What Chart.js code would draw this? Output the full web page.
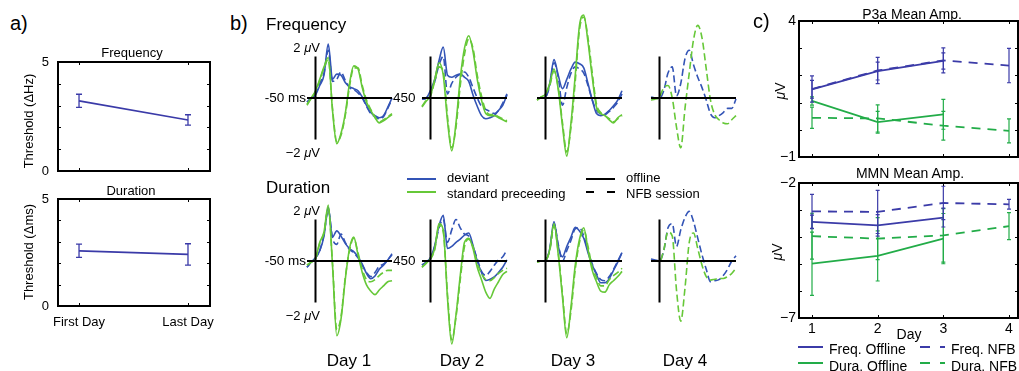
<!DOCTYPE html>
<html><head><meta charset="utf-8">
<script src="https://cdn.jsdelivr.net/npm/chart.js@4.4.0/dist/chart.umd.min.js"></script>
<style>
html,body{margin:0;padding:0;background:#fff;}
body{width:1019px;height:371px;position:relative;overflow:hidden;font-family:"Liberation Sans",Arial,Helvetica,sans-serif;color:#000;}
canvas{position:absolute;}
.t{position:absolute;white-space:nowrap;line-height:1;}
.ln{position:absolute;}
</style></head><body>
<script>
// ---------------- DATA ----------------
// panel a
const aCategories = ['First Day', 'Last Day'];
const aFreqThreshold = [3.22, 2.34];
const aFreqErr = [0.30, 0.24];
const aDurThreshold = [2.58, 2.41];
const aDurErr = [0.31, 0.50];
const aYTicks = [0, 1, 2, 3, 4, 5];
const aYLabels = [0, 5];

// panel b (time in ms, amplitude in µV)
const waveTimes = [-50,-25,0,25,50,75,100,125,150,175,200,225,250,275,300,325,350,375,400,425,450];
const waveTimeRange = [-50, 450];
const voltRange = [-2, 2];
const dayNames = ['Day 1', 'Day 2', 'Day 3', 'Day 4'];

const freqD1DevOff = [-0.2, 0.0, 0.15, 0.6, 1.1, 2.6, 0.9, 1.15, 1.1, 0.75, 0.55, 0.45, 0.35, 0.05, -0.35, -0.7, -0.85, -0.95, -0.85, -0.45, 0.0];
const freqD1DevNfb = [-0.2, 0.0, 0.2, 0.7, 1.2, 2.3, 0.8, 0.9, 1.25, 0.85, 0.5, 0.4, 0.25, 0.0, -0.4, -0.75, -0.9, -1.0, -0.9, -0.5, -0.05];
const freqD1StdOff = [-0.35, 0.0, 0.35, 0.9, 1.5, 1.95, -0.6, -2.2, -1.7, -0.75, 0.7, 1.55, 1.4, 0.5, -0.2, -0.6, -0.95, -1.2, -1.1, -0.95, -0.8];
const freqD1StdNfb = [-0.3, 0.0, 0.3, 0.85, 1.45, 1.85, -0.5, -2.1, -1.8, -0.85, 0.55, 1.45, 1.45, 0.6, -0.1, -0.55, -0.9, -1.15, -1.05, -0.9, -0.75];

const freqD2DevOff = [-0.05, 0.0, 0.37, 0.9, 1.8, 2.45, 1.1, 1.0, 1.1, 1.15, 1.0, 0.8, 0.15, -0.4, -0.85, -1.0, -0.95, -0.85, -0.6, -0.35, 0.15];
const freqD2DevNfb = [-0.05, 0.0, 0.3, 0.8, 1.6, 2.0, 0.2, 0.7, 1.0, 1.15, 1.25, 1.0, 0.5, 0.0, -0.4, -0.55, -0.65, -0.75, -0.6, -0.25, 0.2];
const freqD2StdOff = [-0.43, -0.15, 0.13, 0.9, 1.7, 1.1, -1.1, -2.55, -1.2, 0.95, 2.4, 3.0, 2.25, 0.9, -0.1, -0.75, -0.85, -0.85, -0.95, -1.05, -1.15];
const freqD2StdNfb = [-0.4, -0.1, 0.1, 0.8, 1.5, 1.3, -0.9, -2.4, -1.4, 0.6, 2.1, 2.85, 2.4, 1.1, 0.1, -0.6, -0.8, -0.8, -0.9, -1.0, -1.1];

const freqD3DevOff = [0.0, 0.0, 0.05, 0.7, 1.85, 1.1, 0.45, 0.9, 1.4, 1.73, 1.65, 1.45, 0.7, -0.1, -0.75, -0.85, -0.78, -0.6, -0.37, -0.1, 0.35];
const freqD3DevNfb = [0.0, 0.0, 0.05, 0.6, 1.7, 1.0, -0.35, 0.5, 1.2, 1.5, 1.4, 1.2, 0.6, -0.1, -0.6, -0.75, -0.8, -0.65, -0.45, -0.2, 0.2];
const freqD3StdOff = [-0.1, 0.05, 0.2, 0.7, 1.4, 0.4, -1.35, -2.8, -1.2, 1.1, 3.5, 4.0, 2.7, 1.0, -0.45, -0.75, -0.85, -1.05, -1.2, -0.95, -0.8];
const freqD3StdNfb = [-0.1, 0.05, 0.2, 0.6, 1.3, 0.5, -1.2, -2.6, -1.4, 0.8, 3.3, 3.9, 2.9, 1.2, -0.3, -0.7, -0.85, -1.0, -1.15, -1.0, -0.85];

const freqD4DevNfb = [0.05, 0.0, -0.03, 0.35, 1.2, 1.5, 0.1, 0.7, 1.9, 2.3, 1.6, 1.0, 0.5, -0.1, -0.76, -0.95, -0.85, -0.7, -0.5, -0.5, -0.05];
const freqD4StdNfb = [-0.1, -0.05, 0.05, 0.5, 0.6, 0.0, -1.4, -2.4, -0.5, 1.2, 2.8, 3.5, 2.9, 1.4, -0.1, -0.8, -1.05, -1.2, -1.24, -1.05, -0.85];

const durD1DevOff = [-0.3, -0.05, 0.16, 0.5, 1.2, 2.6, 1.15, 1.45, 1.2, 0.85, 0.6, 0.45, 0.2, -0.15, -0.6, -0.85, -0.72, -0.4, -0.2, 0.05, 0.35];
const durD1DevNfb = [-0.3, -0.05, 0.15, 0.5, 1.3, 2.45, 1.1, 0.8, 1.3, 0.9, 0.55, 0.4, 0.15, -0.2, -0.55, -0.75, -0.55, -0.25, -0.15, 0.05, 0.3];
const durD1StdOff = [-0.2, -0.05, 0.11, 0.9, 1.4, 2.7, -0.2, -3.6, -2.8, -0.9, 0.6, 1.15, 0.3, -0.55, -1.15, -1.45, -1.62, -1.4, -1.2, -1.0, -0.95];
const durD1StdNfb = [-0.2, -0.05, 0.1, 0.85, 1.35, 2.55, -0.1, -3.3, -2.7, -0.8, 0.5, 1.1, 0.4, -0.4, -0.9, -1.0, -0.9, -0.7, -0.55, -0.45, -0.45];

const durD2DevOff = [-0.2, -0.05, 0.16, 0.75, 1.7, 2.2, 0.6, 0.7, 0.9, 1.05, 1.25, 1.35, 0.75, 0.0, -0.55, -0.94, -0.88, -0.77, -0.55, -0.3, 0.05];
const durD2DevNfb = [-0.2, -0.05, 0.15, 0.7, 1.6, 2.0, 0.9, 1.5, 2.0, 1.6, 1.3, 1.2, 0.7, 0.1, -0.5, -0.7, -0.5, -0.2, 0.05, 0.2, 0.55];
const durD2StdOff = [-0.3, -0.1, 0.11, 0.6, 1.8, 1.5, -1.8, -4.0, -2.6, -0.7, 0.9, 1.1, 0.6, -0.3, -0.9, -1.5, -1.8, -1.35, -1.0, -0.65, -0.5];
const durD2StdNfb = [-0.3, -0.1, 0.1, 0.55, 1.7, 1.4, -1.6, -3.8, -2.7, -0.9, 0.7, 1.05, 0.7, -0.1, -0.6, -0.9, -0.95, -0.8, -0.6, -0.45, -0.35];

const durD3DevOff = [0.0, 0.0, 0.0, 0.6, 1.9, 0.7, 0.2, 0.7, 1.15, 1.62, 1.45, 1.1, 0.4, -0.2, -0.65, -1.05, -1.05, -0.85, -0.45, -0.05, 0.4];
const durD3DevNfb = [0.0, 0.0, 0.05, 0.55, 1.8, 0.8, 0.0, 0.5, 1.0, 1.55, 1.6, 1.2, 0.5, -0.15, -0.6, -0.9, -0.95, -0.75, -0.4, 0.0, 0.4];
const durD3StdOff = [-0.05, 0.0, 0.03, 0.55, 1.8, 0.3, -1.75, -3.7, -2.2, -0.2, 1.05, 1.6, 0.55, -0.45, -1.0, -1.45, -1.5, -1.15, -0.95, -0.75, -0.5];
const durD3StdNfb = [-0.05, 0.0, 0.03, 0.5, 1.7, 0.4, -1.6, -3.5, -2.4, -0.4, 0.9, 1.5, 0.7, -0.3, -0.8, -1.2, -1.2, -0.9, -0.7, -0.55, -0.35];

const durD4DevNfb = [0.1, 0.05, 0.0, 0.5, 1.6, 1.8, 0.7, 1.5, 2.1, 2.39, 1.9, 1.1, 0.3, -0.4, -1.0, -0.95, -0.9, -0.7, -0.4, 0.0, 0.25];
const durD4StdNfb = [0.0, 0.0, -0.03, 0.53, 1.4, 1.2, -1.4, -2.9, -1.3, 0.9, 1.35, 0.6, -0.2, -0.75, -0.92, -0.88, -0.84, -0.84, -0.75, -0.6, -0.35];

// panel c
const cDays = [1, 2, 3, 4];
const p3aFreqOff = [1.49, 2.16, 2.53, null];
const p3aFreqOffErr = [0.33, 0.33, 0.30, null];
const p3aFreqNfb = [1.50, 2.18, 2.55, 2.36];
const p3aFreqNfbErr = [0.48, 0.48, 0.46, 0.63];
const p3aDurOff = [1.06, 0.28, 0.57, null];
const p3aDurOffErr = [0.15, 0.40, 0.55, null];
const p3aDurNfb = [0.44, 0.42, 0.15, -0.04];
const p3aDurNfbErr = [0.39, 0.50, 0.53, 0.44];
const p3aYTicks = [-1, 0, 1, 2, 3, 4];
const p3aYLabels = [-1, 4];

const mmnFreqOff = [-3.44, -3.57, -3.28, null];
const mmnFreqOffErr = [0.25, 0.40, 0.35, null];
const mmnFreqNfb = [-3.05, -3.07, -2.74, -2.79];
const mmnFreqNfbErr = [0.63, 0.80, 0.62, 0.18];
const mmnDurOff = [-4.99, -4.70, -4.06, null];
const mmnDurOffErr = [1.17, 0.93, 0.93, null];
const mmnDurNfb = [-3.97, -4.06, -3.94, -3.60];
const mmnDurNfbErr = [0.85, 0.78, 0.99, 0.50];
const mmnYTicks = [-7, -6, -5, -4, -3, -2];
const mmnYLabels = [-7, -2];

// ---------------- STYLE ----------------
const FONT = '"Liberation Sans", Arial, Helvetica, sans-serif';
const A_BLUE = '#3a3aa8';
const B_BLUE = '#3354b6';
const B_GREEN = '#66c838';
const C_BLUE = '#3b3ba8';
const C_GREEN = '#22ac48';

Chart.defaults.font.family = FONT;
Chart.defaults.color = '#000';
Chart.defaults.animation = false;

function txt(html, x, y, size, align) {
  const d = document.createElement('div');
  d.className = 't';
  d.innerHTML = html;
  d.style.left = x + 'px';
  d.style.top = y + 'px';
  d.style.fontSize = size + 'px';
  const dx = align === 'center' ? '-50%' : align === 'right' ? '-100%' : '0';
  d.style.transform = 'translate(' + dx + ',-50%)';
  document.body.appendChild(d);
  return d;
}
function vtxt(html, x, y, size) {
  const d = txt(html, x, y, size, 'center');
  d.style.transformOrigin = '0 0';
  d.style.transform = 'rotate(-90deg) translate(-50%,-50%)';
  return d;
}
function hline(x1, x2, y, color, w, dash) {
  const d = document.createElement('div');
  d.className = 'ln';
  d.style.left = x1 + 'px';
  d.style.top = (y - w / 2) + 'px';
  d.style.width = (x2 - x1) + 'px';
  d.style.height = w + 'px';
  d.style.background = dash
    ? 'repeating-linear-gradient(to right,' + color + ' 0px,' + color + ' ' + dash[0] + 'px,transparent ' + dash[0] + 'px,transparent ' + (dash[0] + dash[1]) + 'px)'
    : color;
  document.body.appendChild(d);
}
function mkCanvas(left, top, w, h) {
  const c = document.createElement('canvas');
  c.width = w; c.height = h;
  c.style.left = left + 'px'; c.style.top = top + 'px';
  c.style.width = w + 'px'; c.style.height = h + 'px';
  document.body.appendChild(c);
  return c;
}
const pts = (xs, ys) => xs.map((x, i) => ({ x: x, y: ys[i] }));

// ---------------- PLUGINS ----------------
const framePlugin = {
  id: 'frame',
  afterDraw(chart, args, o) {
    if (!o || !o.on) return;
    const { ctx, chartArea: a, scales: { x, y } } = chart;
    ctx.save();
    ctx.strokeStyle = '#000';
    ctx.setLineDash([]);
    ctx.lineWidth = 1;
    const tl = o.tick;
    ctx.beginPath();
    o.yTicks.forEach(v => {
      const py = Math.round(y.getPixelForValue(v)) + 0.5;
      ctx.moveTo(a.left, py); ctx.lineTo(a.left + tl, py);
      ctx.moveTo(a.right, py); ctx.lineTo(a.right - tl, py);
    });
    o.xTicks.forEach(v => {
      const px = Math.round(x.getPixelForValue(v)) + 0.5;
      ctx.moveTo(px, a.top); ctx.lineTo(px, a.top + tl);
      ctx.moveTo(px, a.bottom); ctx.lineTo(px, a.bottom - tl);
    });
    ctx.stroke();
    ctx.lineWidth = o.lw;
    ctx.strokeRect(a.left, a.top, a.right - a.left, a.bottom - a.top);
    ctx.restore();
  }
};
const errPlugin = {
  id: 'errbars',
  afterDatasetsDraw(chart) {
    const { ctx, scales: { x, y } } = chart;
    chart.data.datasets.forEach(ds => {
      if (!ds.errors) return;
      ctx.save();
      ctx.strokeStyle = ds.borderColor;
      ctx.lineWidth = ds.errWidth || 1.3;
      ctx.setLineDash([]);
      ds.data.forEach((p, j) => {
        const e = ds.errors[j];
        if (p.y == null || e == null) return;
        const px = x.getPixelForValue(p.x);
        const y1 = y.getPixelForValue(p.y - e), y2 = y.getPixelForValue(p.y + e);
        const w = ds.capW || 3;
        ctx.beginPath();
        ctx.moveTo(px, y1); ctx.lineTo(px, y2);
        ctx.moveTo(px - w, y1); ctx.lineTo(px + w, y1);
        ctx.moveTo(px - w, y2); ctx.lineTo(px + w, y2);
        ctx.stroke();
      });
      ctx.restore();
    });
  }
};
const waveAxes = {
  id: 'waveAxes',
  afterDatasetsDraw(chart) {
    const { ctx, scales: { x, y } } = chart;
    ctx.save();
    ctx.strokeStyle = '#000';
    ctx.lineWidth = 2;
    ctx.setLineDash([]);
    ctx.beginPath();
    const y0 = y.getPixelForValue(0);
    ctx.moveTo(x.getPixelForValue(waveTimeRange[0]), y0);
    ctx.lineTo(x.getPixelForValue(waveTimeRange[1]), y0);
    const x0 = x.getPixelForValue(0);
    ctx.moveTo(x0, y.getPixelForValue(voltRange[0]));
    ctx.lineTo(x0, y.getPixelForValue(voltRange[1]));
    ctx.stroke();
    ctx.restore();
  }
};

// ---------------- BOXED CHART ----------------
// margins are kept larger than (half label height + tick padding) so the chart area is exactly `box`
function boxChart(cfg) {
  const b = cfg.box, m = cfg.m;
  const c = mkCanvas(b.x - m.l, b.y - m.t, m.l + b.w + m.r, m.t + b.h + m.b);
  return new Chart(c, {
    type: 'line',
    data: { datasets: cfg.datasets },
    plugins: [errPlugin, framePlugin],
    options: {
      responsive: false,
      animation: false,
      layout: { padding: { left: 0, top: m.t, right: m.r, bottom: 0 } },
      elements: { point: { radius: 0 }, line: { tension: 0 } },
      plugins: {
        legend: { display: false }, tooltip: { enabled: false }, title: { display: false },
        frame: { on: true, lw: cfg.frameW, tick: cfg.tick, xTicks: cfg.xTicks, yTicks: cfg.yTicks }
      },
      scales: {
        x: {
          type: 'linear', min: cfg.xMin, max: cfg.xMax, display: true,
          grid: { display: false, drawTicks: false }, border: { display: false },
          ticks: { autoSkip: false, maxRotation: 0, padding: cfg.xPad, font: { size: cfg.xFont }, color: '#000',
                   callback: cfg.showX ? cfg.xLabel : (() => '') },
          afterBuildTicks: s => { s.ticks = cfg.xTicks.map(v => ({ value: v })); },
          afterFit: s => { s.height = m.b; }
        },
        y: {
          type: 'linear', min: cfg.yMin, max: cfg.yMax, position: 'left',
          grid: { display: false, drawTicks: false }, border: { display: false },
          ticks: { autoSkip: false, padding: cfg.yPad, font: { size: cfg.yFont }, color: '#000',
                   callback: v => cfg.yLabels.includes(v) ? (v < 0 ? '\u2212' + Math.abs(v) : String(v)) : '' },
          afterBuildTicks: s => { s.ticks = cfg.yTicks.map(v => ({ value: v })); },
          afterFit: s => { s.width = m.l; }
        }
      }
    }
  });
}

// ---------------- PANEL A ----------------
const aX = [1, 2];
boxChart({
  box: { x: 58, y: 62, w: 152, h: 109 }, m: { l: 58, t: 20, r: 10, b: 20 },
  xMin: 0.807, xMax: 2.202, yMin: 0, yMax: 5, xTicks: aX, yTicks: aYTicks, yLabels: aYLabels,
  yPad: 9, yFont: 13, xPad: 9, xFont: 13, frameW: 2, tick: 3, showX: false,
  datasets: [{ data: pts(aX, aFreqThreshold), errors: aFreqErr, borderColor: A_BLUE, borderWidth: 1.7, capW: 3 }]
});
boxChart({
  box: { x: 58, y: 199, w: 152, h: 107 }, m: { l: 58, t: 20, r: 30, b: 30 },
  xMin: 0.807, xMax: 2.202, yMin: 0, yMax: 5, xTicks: aX, yTicks: aYTicks, yLabels: aYLabels,
  yPad: 9, yFont: 13, xPad: 9, xFont: 13, frameW: 2, tick: 3, showX: true,
  xLabel: v => aCategories[aX.indexOf(v)] || '',
  datasets: [{ data: pts(aX, aDurThreshold), errors: aDurErr, borderColor: A_BLUE, borderWidth: 1.7, capW: 3 }]
});
txt('a)', 10, 23, 20, 'left');
txt('Frequency', 132, 52, 13, 'center');
txt('Duration', 131, 190, 13, 'center');
vtxt('Threshold (\u0394Hz)', 28, 121, 13);
vtxt('Threshold (\u0394ms)', 28, 252, 13);

// ---------------- PANEL B ----------------
const colT0 = [315, 430, 545, 659];
const rowBase = [98, 261];
const PX_PER_UV = 20.75;
function waveChart(t0, base, series) {
  const areaLeft = Math.round(t0 - 8.5), pad = 4, w = 85, h = 190;
  const c = mkCanvas(areaLeft - pad, base - h / 2, w + 2 * pad, h);
  const half = (h / 2) / PX_PER_UV;
  new Chart(c, {
    type: 'line',
    data: {
      datasets: series.map(s => ({
        data: pts(waveTimes, s.v), borderColor: s.color, borderWidth: 1.6,
        borderDash: s.dashed ? [7, 3.5] : [], cubicInterpolationMode: 'monotone', clip: false
      }))
    },
    plugins: [waveAxes],
    options: {
      responsive: false, animation: false,
      layout: { padding: { left: pad, right: pad, top: 0, bottom: 0 } },
      elements: { point: { radius: 0 } },
      plugins: { legend: { display: false }, tooltip: { enabled: false } },
      scales: {
        x: { type: 'linear', min: waveTimeRange[0], max: waveTimeRange[1], display: false },
        y: { type: 'linear', min: -half, max: half, display: false }
      }
    }
  });
}
const std = (v, dashed) => ({ v: v, color: B_GREEN, dashed: dashed });
const dev = (v, dashed) => ({ v: v, color: B_BLUE, dashed: dashed });
const freqRows = [
  [std(freqD1StdNfb, true), std(freqD1StdOff, false), dev(freqD1DevNfb, true), dev(freqD1DevOff, false)],
  [std(freqD2StdNfb, true), std(freqD2StdOff, false), dev(freqD2DevNfb, true), dev(freqD2DevOff, false)],
  [std(freqD3StdNfb, true), std(freqD3StdOff, false), dev(freqD3DevNfb, true), dev(freqD3DevOff, false)],
  [std(freqD4StdNfb, true), dev(freqD4DevNfb, true)]
];
const durRows = [
  [std(durD1StdNfb, true), std(durD1StdOff, false), dev(durD1DevNfb, true), dev(durD1DevOff, false)],
  [std(durD2StdNfb, true), std(durD2StdOff, false), dev(durD2DevNfb, true), dev(durD2DevOff, false)],
  [std(durD3StdNfb, true), std(durD3StdOff, false), dev(durD3DevNfb, true), dev(durD3DevOff, false)],
  [std(durD4StdNfb, true), dev(durD4DevNfb, true)]
];
freqRows.forEach((s, i) => waveChart(colT0[i], rowBase[0], s));
durRows.forEach((s, i) => waveChart(colT0[i], rowBase[1], s));

txt('b)', 230, 23, 20, 'left');
txt('Frequency', 266, 24, 17, 'left');
txt('Duration', 266, 187, 17, 'left');
rowBase.forEach(b => {
  txt('2 <i>\u03bc</i>V', 320, b - 51, 13, 'right');
  txt('\u22122 <i>\u03bc</i>V', 320, b + 54, 13, 'right');
  txt('-50 ms', 306, b, 13.5, 'right');
  txt('450', 393, b, 13.5, 'left');
});
const dayX = [349, 462, 573, 685];
dayNames.forEach((d, i) => txt(d, dayX[i], 360, 17, 'center'));
// legend b
hline(407, 436, 179, B_BLUE, 2);
hline(407, 436, 192, B_GREEN, 2);
txt('deviant', 447, 177, 13, 'left');
txt('standard preceeding', 447, 193, 13, 'left');
hline(586, 615, 179, '#000', 2);
hline(586, 615, 192, '#000', 2, [8, 13]);
txt('offline', 626, 177, 13, 'left');
txt('NFB session', 626, 193, 13, 'left');

// ---------------- PANEL C ----------------
function cSets(fo, foe, fn, fne, dof, doe, dn, dne) {
  return [
    { data: pts(cDays, dn), errors: dne, borderColor: C_GREEN, borderWidth: 1.8, borderDash: [9, 7], capW: 2, errWidth: 1.2 },
    { data: pts(cDays, dof), errors: doe, borderColor: C_GREEN, borderWidth: 1.8, capW: 2, errWidth: 1.2 },
    { data: pts(cDays, fn), errors: fne, borderColor: C_BLUE, borderWidth: 1.8, borderDash: [9, 7], capW: 2, errWidth: 1.2 },
    { data: pts(cDays, fo), errors: foe, borderColor: C_BLUE, borderWidth: 1.8, capW: 2, errWidth: 1.2 }
  ];
}
boxChart({
  box: { x: 799, y: 21, w: 219, h: 136 }, m: { l: 40, t: 14, r: 1, b: 14 },
  xMin: 0.802, xMax: 4.137, yMin: -1, yMax: 4, xTicks: cDays, yTicks: p3aYTicks, yLabels: p3aYLabels,
  yPad: 3, yFont: 14, xPad: 3, xFont: 14, frameW: 2, tick: 3, showX: false,
  datasets: cSets(p3aFreqOff, p3aFreqOffErr, p3aFreqNfb, p3aFreqNfbErr, p3aDurOff, p3aDurOffErr, p3aDurNfb, p3aDurNfbErr)
});
boxChart({
  box: { x: 799, y: 183, w: 219, h: 135 }, m: { l: 40, t: 14, r: 1, b: 22 },
  xMin: 0.802, xMax: 4.137, yMin: -7, yMax: -2, xTicks: cDays, yTicks: mmnYTicks, yLabels: mmnYLabels,
  yPad: 3, yFont: 14, xPad: 3, xFont: 14, frameW: 2, tick: 3, showX: true,
  xLabel: v => String(v),
  datasets: cSets(mmnFreqOff, mmnFreqOffErr, mmnFreqNfb, mmnFreqNfbErr, mmnDurOff, mmnDurOffErr, mmnDurNfb, mmnDurNfbErr)
});
txt('c)', 753, 21, 20, 'left');
txt('P3a Mean Amp.', 912, 14, 14, 'center');
txt('MMN Mean Amp.', 910, 173, 14, 'center');
vtxt('<i>\u03bc</i>V', 780, 91, 14);
vtxt('<i>\u03bc</i>V', 777, 252, 14);
txt('Day', 909, 334, 14, 'center');
hline(798, 823, 347, C_BLUE, 2);
hline(798, 823, 363, C_GREEN, 2);
hline(920, 945, 347, C_BLUE, 2, [10, 10]);
hline(920, 945, 363, C_GREEN, 2, [10, 10]);
txt('Freq. Offline', 829, 349, 14, 'left');
txt('Dura. Offline', 829, 366, 14, 'left');
txt('Freq. NFB', 951, 349, 14, 'left');
txt('Dura. NFB', 951, 366, 14, 'left');
</script></body></html>
